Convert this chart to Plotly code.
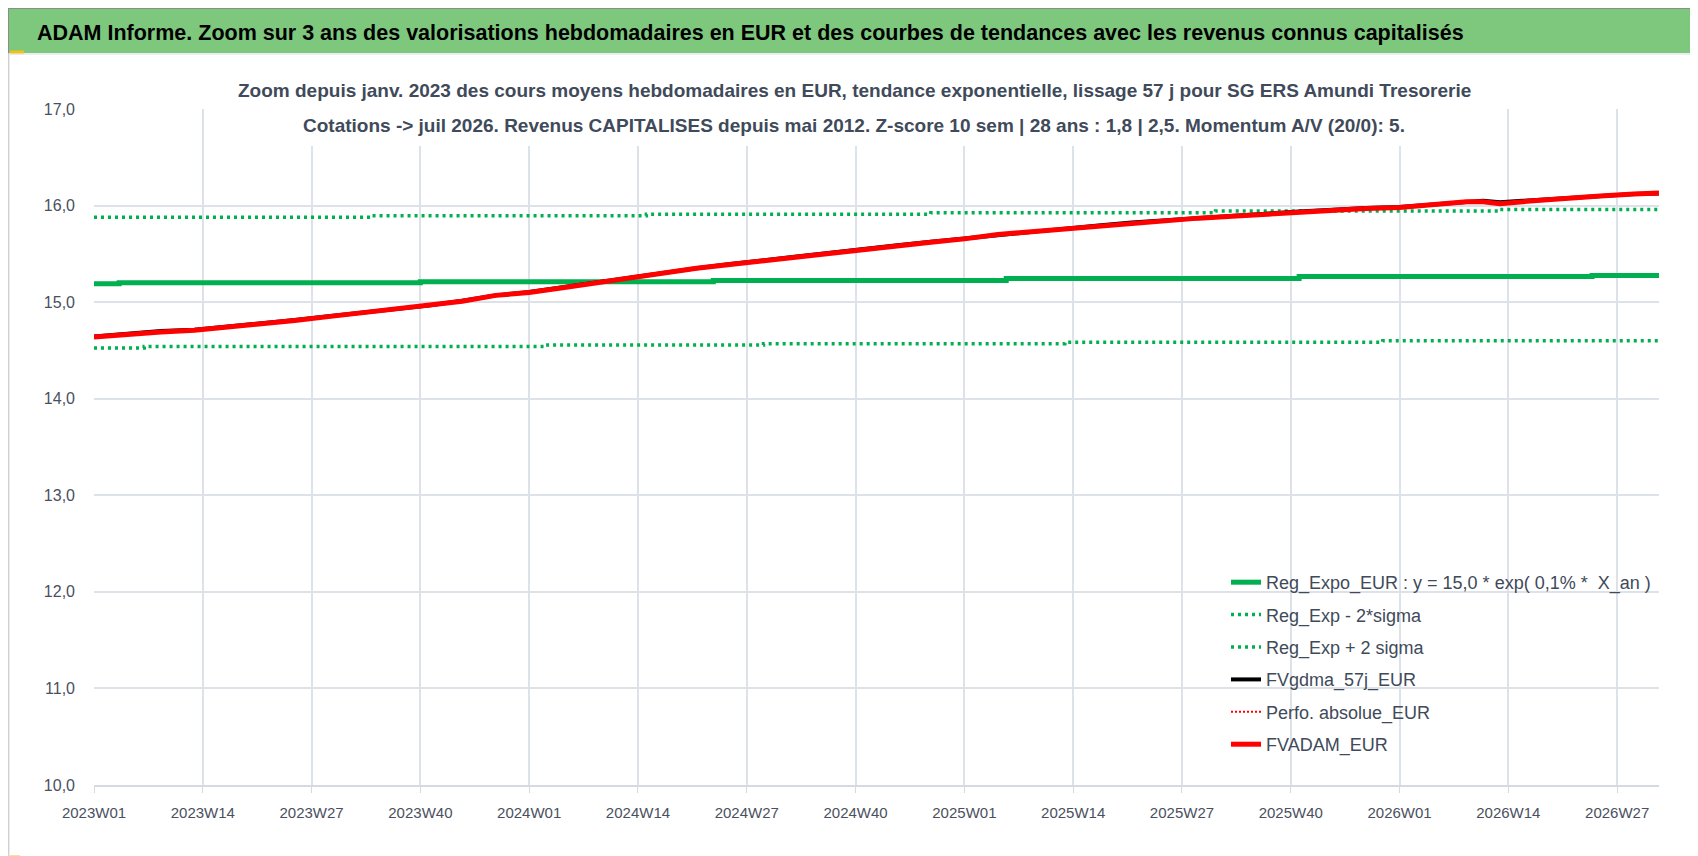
import plotly.graph_objects as go

# weekly categories shown on the x axis (2023W01 .. 2026W32)
YEARS = [2023, 2024, 2025, 2026]
LAST_WEEK = {2023: 52, 2024: 52, 2025: 52, 2026: 32}
WEEKS = [f"{y}W{w:02d}" for y in YEARS for w in range(1, LAST_WEEK[y] + 1)]
X_TICKS = ["2023W01", "2023W14", "2023W27", "2023W40",
           "2024W01", "2024W14", "2024W27", "2024W40",
           "2025W01", "2025W14", "2025W27", "2025W40",
           "2026W01", "2026W14", "2026W27"]

# Reg_Expo_EUR (rounded values, change points)
reg_x = ["2023W01", "2023W04", "2023W40", "2024W23", "2025W06", "2025W41", "2026W24", "2026W32"]
reg_y = [15.19, 15.20, 15.21, 15.225, 15.245, 15.265, 15.275, 15.275]

# Reg_Exp - 2*sigma
low_x = ["2023W01", "2023W07", "2024W03", "2024W29", "2025W13", "2025W51", "2026W32"]
low_y = [14.525, 14.54, 14.555, 14.57, 14.585, 14.60, 14.60]

# Reg_Exp + 2 sigma
up_x = ["2023W01", "2023W34", "2024W15", "2024W49", "2025W31", "2026W13", "2026W32"]
up_y = [15.88, 15.895, 15.91, 15.925, 15.945, 15.96, 15.96]

# FVADAM_EUR / FVgdma_57j_EUR / Perfo. absolue_EUR, read every 4 weeks
fv_x = ["2023W01", "2023W05", "2023W09", "2023W13", "2023W17", "2023W21", "2023W25",
        "2023W29", "2023W33", "2023W37", "2023W41", "2023W45", "2023W49",
        "2024W01", "2024W05", "2024W09", "2024W13", "2024W17", "2024W21", "2024W25",
        "2024W29", "2024W33", "2024W37", "2024W41", "2024W45", "2024W49",
        "2025W01", "2025W05", "2025W09", "2025W13", "2025W17", "2025W21", "2025W25",
        "2025W29", "2025W33", "2025W37", "2025W41", "2025W45", "2025W49",
        "2026W01", "2026W05", "2026W09", "2026W11", "2026W13", "2026W17", "2026W21",
        "2026W25", "2026W29", "2026W32"]
fvadam = [14.64, 14.67, 14.69, 14.71, 14.74, 14.77, 14.81,
          14.85, 14.89, 14.93, 14.96, 15.01, 15.07,
          15.10, 15.15, 15.20, 15.26, 15.30, 15.35, 15.39,
          15.43, 15.47, 15.51, 15.55, 15.59, 15.62,
          15.655, 15.70, 15.73, 15.76, 15.79, 15.82, 15.84,
          15.87, 15.89, 15.91, 15.94, 15.955, 15.97,
          15.98, 16.01, 16.04, 16.04, 16.02, 16.05, 16.08,
          16.10, 16.12, 16.13]
fvgdma = [14.645, 14.675, 14.70, 14.715, 14.745, 14.775, 14.815,
          14.855, 14.89, 14.935, 14.965, 15.015, 15.07,
          15.105, 15.155, 15.205, 15.26, 15.305, 15.35, 15.395,
          15.435, 15.475, 15.515, 15.555, 15.59, 15.625,
          15.66, 15.70, 15.735, 15.765, 15.795, 15.825, 15.845,
          15.875, 15.895, 15.915, 15.94, 15.96, 15.975,
          15.985, 16.015, 16.045, 16.05, 16.035, 16.055, 16.085,
          16.105, 16.12, 16.125]
perfo = fvadam

TITLE = ("ADAM Informe. Zoom sur 3 ans des valorisations hebdomadaires en EUR "
         "et des courbes de tendances avec les revenus connus capitalisés")
SUB1 = ("Zoom depuis janv. 2023 des cours moyens hebdomadaires en EUR, tendance exponentielle, "
        "lissage 57 j pour SG ERS Amundi Tresorerie")
SUB2 = ("Cotations -> juil 2026. Revenus CAPITALISES depuis mai 2012. "
        "Z-score 10 sem | 28 ans : 1,8 | 2,5. Momentum A/V (20/0): 5.")

W, H = 1698, 856
L, R, T, B = 86, 47, 101, 79
FONT = "Liberation Sans, Arial, sans-serif"
GREEN = "#00B050"
TXT = "#404A5A"


def px(x, y):
    # pixel position -> paper coordinates
    return (x - L) / (W - L - R), (H - B - y) / (H - T - B)


fig = go.Figure()
fig.add_trace(go.Scatter(x=reg_x, y=reg_y, mode="lines", line_shape="hv",
                         name="Reg_Expo_EUR : y = 15,0 * exp( 0,1% *  X_an )",
                         legendgroup="a", line=dict(color=GREEN, width=5)))
fig.add_trace(go.Scatter(x=low_x, y=low_y, mode="lines", line_shape="hv",
                         name="Reg_Exp - 2*sigma", legendgroup="b",
                         line=dict(color=GREEN, width=3.5, dash="3px,4px")))
fig.add_trace(go.Scatter(x=up_x, y=up_y, mode="lines", line_shape="hv",
                         name="Reg_Exp + 2 sigma", legendgroup="c",
                         line=dict(color=GREEN, width=3.5, dash="3px,4px")))
fig.add_trace(go.Scatter(x=fv_x, y=fvgdma, mode="lines", name="FVgdma_57j_EUR",
                         legendgroup="d", line=dict(color="black", width=4)))
fig.add_trace(go.Scatter(x=fv_x, y=perfo, mode="lines", name="Perfo. absolue_EUR",
                         legendgroup="e", line=dict(color="red", width=2, dash="2px,2px")))
fig.add_trace(go.Scatter(x=fv_x, y=fvadam, mode="lines", name="FVADAM_EUR",
                         legendgroup="f", line=dict(color="red", width=5)))

shapes = []
# outer frame, title bar, chart frame
x0, y0 = px(0, 0)
x1, y1 = px(W, H)
shapes.append(dict(type="rect", xref="paper", yref="paper", x0=x0, y0=y0, x1=x1, y1=y1,
                   line=dict(color="#8C8C8C", width=2), fillcolor="white", layer="below"))
a0, b0 = px(1, 1)
a1, b1 = px(W - 2, 45)
shapes.append(dict(type="rect", xref="paper", yref="paper", x0=a0, y0=b0, x1=a1, y1=b1,
                   line=dict(width=0), fillcolor="#7EC87E", layer="below"))
c0, d0 = px(1, 46)
c1, d1 = px(W - 6, H - 6)
shapes.append(dict(type="rect", xref="paper", yref="paper", x0=c0, y0=d0, x1=c1, y1=d1,
                   line=dict(color="#E3E6EA", width=1.5), fillcolor="rgba(0,0,0,0)", layer="below"))
# white box behind the chart title (covers the grid, as in the reference)
e0, f0 = px(232, 62)
e1, f1 = px(1460, 138)
shapes.append(dict(type="rect", xref="paper", yref="paper", x0=e0, y0=f0, x1=e1, y1=f1,
                   line=dict(width=0), fillcolor="white", layer="above"))
# yellow selection marks
for (ax, ay, bx, by) in [(W - 4, 45, W - 4, 58), (W - 16, 45, W - 4, 45),
                         (W - 4, 770, W - 4, H - 5), (W - 18, H - 5, W - 4, H - 5),
                         (2, 44, 16, 44), (2, H - 7, 12, H - 7), (656, H - 5, 770, H - 5)]:
    p0, q0 = px(ax, ay)
    p1, q1 = px(bx, by)
    shapes.append(dict(type="line", xref="paper", yref="paper", x0=p0, y0=q0, x1=p1, y1=q1,
                       line=dict(color="#F2C21B", width=3)))

tx, ty = px(27, 25)
s1x, s1y = px(846, 83)
s2x, s2y = px(846, 117)
fig.update_layout(
    width=W, height=H,
    margin=dict(l=L, r=R, t=T, b=B),
    paper_bgcolor="white", plot_bgcolor="white",
    separators=", ",
    font=dict(family=FONT, color=TXT, size=16),
    shapes=shapes,
    annotations=[
        dict(text=f"<b>{TITLE}</b>", xref="paper", yref="paper", x=tx, y=ty,
             xanchor="left", yanchor="middle", showarrow=False,
             font=dict(family=FONT, size=21.5, color="black")),
        dict(text=f"<b>{SUB1}</b>", xref="paper", yref="paper", x=s1x, y=s1y,
             xanchor="center", yanchor="middle", showarrow=False,
             font=dict(family=FONT, size=19, color=TXT)),
        dict(text=f"<b>{SUB2}</b>", xref="paper", yref="paper", x=s2x, y=s2y,
             xanchor="center", yanchor="middle", showarrow=False,
             font=dict(family=FONT, size=19, color=TXT)),
    ],
    xaxis=dict(type="category", categoryorder="array", categoryarray=WEEKS,
               range=[0, len(WEEKS) - 1], tickmode="array", tickvals=X_TICKS,
               showgrid=True, gridcolor="#DDE1E8", gridwidth=1.5,
               showline=True, linecolor="#D5D9E0", linewidth=2,
               ticks="outside", ticklen=6, tickcolor="#D5D9E0",
               ticklabelstandoff=7,
               tickangle=0, tickfont=dict(size=15, color="#4A5060"),
               zeroline=False),
    yaxis=dict(range=[10, 17], dtick=1, tickformat=".1f",
               showgrid=True, gridcolor="#DDE1E8", gridwidth=1.5,
               zeroline=False, ticklabelstandoff=18,
               tickfont=dict(size=16, color="#4A5060")),
    legend=dict(x=px(1218, 0)[0], y=px(0, 556)[1], xanchor="left", yanchor="top",
                bgcolor="rgba(0,0,0,0)", font=dict(size=18, color=TXT),
                tracegroupgap=6),
    showlegend=True,
)

fig.write_html("out.html")
